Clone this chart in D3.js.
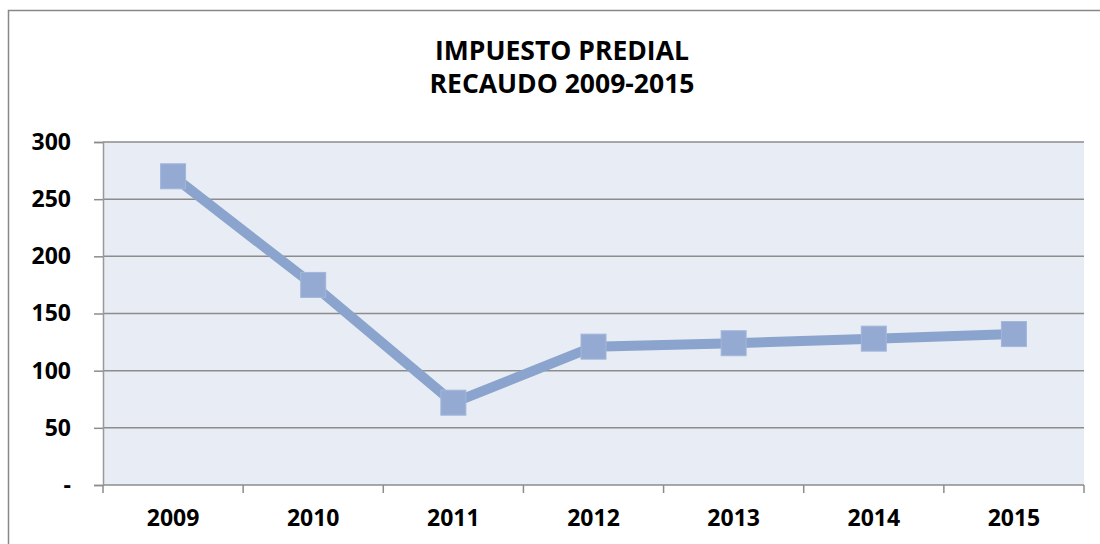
<!DOCTYPE html>
<html>
<head>
<meta charset="utf-8">
<script src="https://cdn.jsdelivr.net/npm/d3@7"></script>
<style>
  body { margin: 0; background: #fff; }
  svg text { font-family: "Open Sans", sans-serif; font-weight: bold; fill: #000; }
</style>
</head>
<body>
<div id="chart"></div>
<script>
const years = ["2009", "2010", "2011", "2012", "2013", "2014", "2015"];
const recaudo = [270, 175, 72, 121, 124, 128, 132];
const yTicks = [0, 50, 100, 150, 200, 250, 300];
const titleLines = ["IMPUESTO PREDIAL", "RECAUDO 2009-2015"];

const W = 1100, H = 544;
const plot = { left: 103, right: 1084, top: 142, bottom: 485 };

const svg = d3.select("#chart").append("svg")
  .attr("width", W)
  .attr("height", H);

// outer chart frame (right and bottom edges fall outside the picture)
svg.append("rect")
  .attr("x", 8.5).attr("y", 10.5)
  .attr("width", 1200).attr("height", 700)
  .attr("fill", "#fff")
  .attr("stroke", "#888").attr("stroke-width", 1.5);

// title
svg.append("g").selectAll("text")
  .data(titleLines)
  .join("text")
  .attr("x", 562)
  .attr("y", (d, i) => 60 + i * 33)
  .attr("text-anchor", "middle")
  .style("font-size", "26.5px")
  .text(d => d);

const x = d3.scaleBand().domain(years).range([plot.left, plot.right]);
const y = d3.scaleLinear().domain([0, 300]).range([plot.bottom, plot.top]);

// plot background
svg.append("rect")
  .attr("x", plot.left).attr("y", plot.top)
  .attr("width", plot.right - plot.left)
  .attr("height", plot.bottom - plot.top)
  .attr("fill", "#e8ecf4");

// gridlines
svg.append("g").selectAll("line")
  .data(yTicks)
  .join("line")
  .attr("x1", plot.left).attr("x2", plot.right)
  .attr("y1", d => y(d)).attr("y2", d => y(d))
  .attr("stroke", "#8c8c8c").attr("stroke-width", 1.5);

// y axis
const yAxis = d3.axisLeft(y)
  .tickValues(yTicks)
  .tickFormat(d => d === 0 ? "-" : d)
  .tickSize(9)
  .tickPadding(23);

const gy = svg.append("g")
  .attr("transform", `translate(${plot.left},0)`)
  .call(yAxis);
gy.attr("font-family", null).attr("font-size", null);
gy.select(".domain").attr("stroke", "#999").attr("stroke-width", 1.5);
gy.selectAll(".tick line").attr("stroke", "#8c8c8c").attr("stroke-width", 1.5);
gy.selectAll("text").style("font-size", "23px");

// x axis: labels centred on bands, ticks on band edges
const xAxis = d3.axisBottom(x).tickSize(0).tickPadding(25);
const gx = svg.append("g")
  .attr("transform", `translate(0,${plot.bottom})`)
  .call(xAxis);
gx.attr("font-family", null).attr("font-size", null);
gx.select(".domain").remove();
gx.selectAll("text").style("font-size", "23px");

svg.append("g").selectAll("line")
  .data(years.concat(["end"]))
  .join("line")
  .attr("x1", d => d === "end" ? plot.right : x(d))
  .attr("x2", d => d === "end" ? plot.right : x(d))
  .attr("y1", plot.bottom).attr("y2", plot.bottom + 8)
  .attr("stroke", "#8c8c8c").attr("stroke-width", 1.5);

// series line
const line = d3.line()
  .x((d, i) => x(years[i]) + x.bandwidth() / 2)
  .y(d => y(d));

svg.append("path")
  .datum(recaudo)
  .attr("d", line)
  .attr("fill", "none")
  .attr("stroke", "#8aa4cd")
  .attr("stroke-width", 10);

// square markers
const ms = 25;
svg.append("g").selectAll("rect")
  .data(recaudo)
  .join("rect")
  .attr("x", (d, i) => x(years[i]) + x.bandwidth() / 2 - ms / 2)
  .attr("y", d => y(d) - ms / 2)
  .attr("width", ms).attr("height", ms)
  .attr("fill", "#94aad2")
  .attr("stroke", "#a3b6da").attr("stroke-width", 1);
</script>
</body>
</html>
